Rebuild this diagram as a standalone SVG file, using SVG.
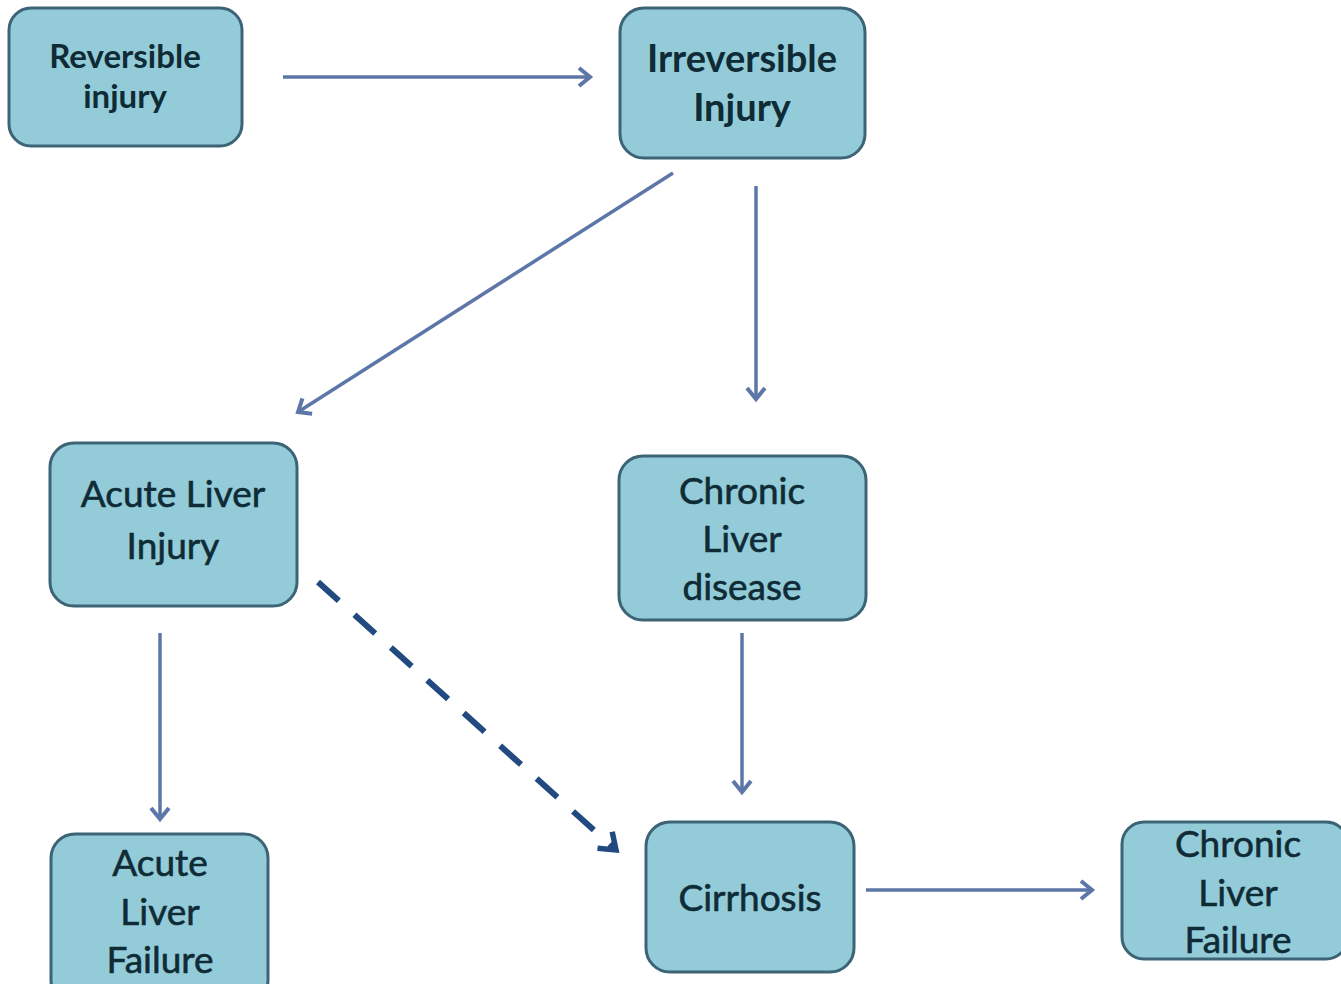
<svg xmlns="http://www.w3.org/2000/svg" width="1341" height="984" viewBox="0 0 1341 984">
<style>
.box{fill:#93ccd8;stroke:#3c6476;stroke-width:3}
.t{font-family:Lato,"Open Sans","Liberation Sans",sans-serif;fill:#0f2b36;text-anchor:middle}
.b{font-weight:bold}
.n{font-size:37px;stroke:#0f2b36;stroke-width:0.6}
.c{fill:none;stroke:#5c77a7;stroke-width:3.5}
.d{fill:none;stroke:#214b80;stroke-width:6;stroke-dasharray:28 21}
</style>
<defs>
<marker id="ah" markerWidth="24" markerHeight="24" refX="16" refY="12" orient="auto" markerUnits="userSpaceOnUse">
<path d="M5,3 L16,12 L5,21" fill="none" stroke="#5c77a7" stroke-width="4"/>
</marker>
<marker id="ahd" markerWidth="30" markerHeight="30" refX="22" refY="15" orient="auto" markerUnits="userSpaceOnUse">
<path d="M7,4 L22,15 L7,26" fill="none" stroke="#214b80" stroke-width="5.5"/>
</marker>
</defs>
<rect width="1341" height="984" fill="#ffffff"/>
<g id="connectors">
<line class="c" x1="283" y1="77" x2="590" y2="77" marker-end="url(#ah)"/>
<line class="c" x1="673" y1="173" x2="298" y2="412" marker-end="url(#ah)"/>
<line class="c" x1="756" y1="186" x2="756" y2="399" marker-end="url(#ah)"/>
<line class="c" x1="160" y1="633" x2="160" y2="819" marker-end="url(#ah)"/>
<line class="c" x1="742" y1="633" x2="742" y2="792" marker-end="url(#ah)"/>
<line class="c" x1="866" y1="890" x2="1092" y2="890" marker-end="url(#ah)"/>
<line class="d" x1="318" y1="582" x2="616" y2="850" marker-end="url(#ahd)"/>
</g>
<g id="reversible-injury">
<rect class="box" x="9" y="8" width="233" height="138" rx="22"/>
<text class="t b" x="125" y="68" font-size="33">Reversible</text>
<text class="t b" x="125" y="108" font-size="33">injury</text>
</g>
<g id="irreversible-injury">
<rect class="box" x="620" y="8" width="245" height="150" rx="24"/>
<text class="t b" x="742" y="72" font-size="38">Irreversible</text>
<text class="t b" x="742" y="121" font-size="38">Injury</text>
</g>
<g id="acute-liver-injury">
<rect class="box" x="50" y="443" width="247" height="163" rx="24"/>
<text class="t n" x="173" y="507">Acute Liver</text>
<text class="t n" x="173" y="559">Injury</text>
</g>
<g id="chronic-liver-disease">
<rect class="box" x="619" y="456" width="247" height="164" rx="24"/>
<text class="t n" x="742" y="504">Chronic</text>
<text class="t n" x="742" y="552">Liver</text>
<text class="t n" x="742" y="600">disease</text>
</g>
<g id="acute-liver-failure">
<rect class="box" x="51" y="834" width="217" height="170" rx="24"/>
<text class="t n" x="160" y="876">Acute</text>
<text class="t n" x="160" y="925">Liver</text>
<text class="t n" x="160" y="973">Failure</text>
</g>
<g id="cirrhosis">
<rect class="box" x="646" y="822" width="208" height="150" rx="24"/>
<text class="t n" x="750" y="911">Cirrhosis</text>
</g>
<g id="chronic-liver-failure">
<rect class="box" x="1122" y="822" width="226" height="137" rx="22"/>
<text class="t n" x="1238" y="857">Chronic</text>
<text class="t n" x="1238" y="906">Liver</text>
<text class="t n" x="1238" y="953">Failure</text>
</g>
</svg>
